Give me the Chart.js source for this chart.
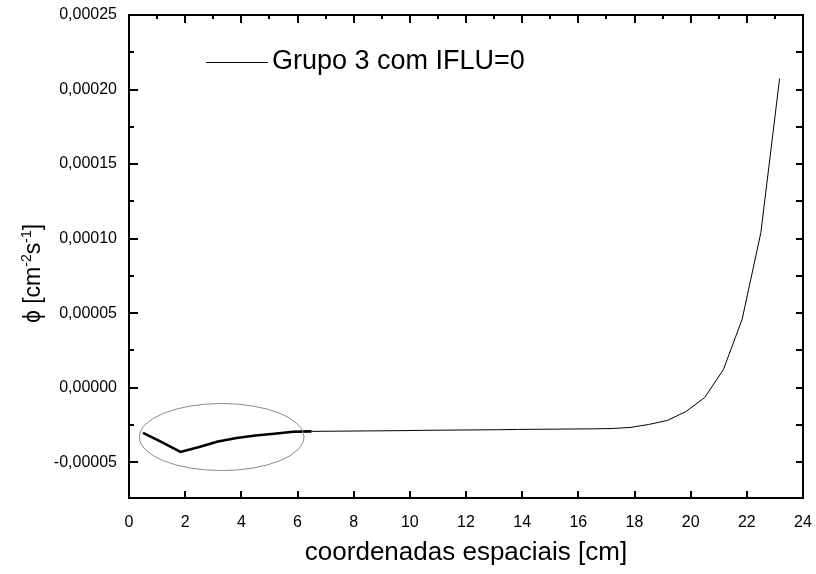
<!DOCTYPE html>
<html>
<head>
<meta charset="utf-8">
<script src="https://cdn.jsdelivr.net/npm/chart.js@4/dist/chart.umd.min.js"></script>
<style>
  body { margin: 0; background: #fff; }
  #box { width: 816px; height: 574px; }
</style>
</head>
<body>
<div id="box"><canvas id="fluxChart"></canvas></div>
<script>
// spatial mesh points (cm) and flux values
const xCoords = [0.5, 1.167, 1.833, 2.5, 3.167, 3.833, 4.5, 5.167, 5.833, 6.5,
  7.167, 7.833, 8.5, 9.167, 9.833, 10.5, 11.167, 11.833, 12.5, 13.167,
  13.833, 14.5, 15.167, 15.833, 16.5, 17.167, 17.833, 18.5, 19.167, 19.833,
  20.5, 21.167, 21.833, 22.5, 23.167]
const phiValues = [-3.03e-5, -3.65e-5, -4.31e-5, -3.98e-5, -3.61e-5, -3.37e-5, -3.21e-5, -3.09e-5, -2.96e-5, -2.93e-5,
  -2.92e-5, -2.91e-5, -2.90e-5, -2.89e-5, -2.88e-5, -2.86e-5, -2.85e-5, -2.84e-5, -2.83e-5, -2.82e-5,
  -2.80e-5, -2.79e-5, -2.78e-5, -2.77e-5, -2.76e-5, -2.74e-5, -2.67e-5, -2.47e-5, -2.20e-5, -1.60e-5,
  -6.6e-6, 1.22e-5, 4.59e-5, 1.041e-4, 2.074e-4]
const seriesLabel = "Grupo 3 com IFLU=0"

// highlighted region (ellipse), in data units
const ellipseCenter = [3.30, -3.31e-5]
const ellipseRadius = [2.93, 2.25e-5]

const xTicks = [0, 2, 4, 6, 8, 10, 12, 14, 16, 18, 20, 22, 24]
const yTicks = [-0.00005, 0, 0.00005, 0.0001, 0.00015, 0.0002, 0.00025]

const FONT = '"Liberation Sans", Arial, sans-serif'

function fmtComma(v) {
  if (Math.abs(v) < 1e-12) v = 0
  return v.toFixed(5).replace(".", ",")
}

const framePlugin = {
  id: "frame",
  afterDatasetsDraw(chart) {
    const ctx = chart.ctx
    const a = chart.chartArea
    const x = chart.scales.x
    const y = chart.scales.y
    ctx.save()

    // gray ellipse round the left part
    const cx = x.getPixelForValue(ellipseCenter[0])
    const cy = y.getPixelForValue(ellipseCenter[1])
    const rx = x.getPixelForValue(ellipseCenter[0] + ellipseRadius[0]) - cx
    const ry = cy - y.getPixelForValue(ellipseCenter[1] + ellipseRadius[1])
    ctx.strokeStyle = "#8a8a8a"
    ctx.lineWidth = 1
    ctx.beginPath()
    ctx.ellipse(cx, cy, rx, ry, 0, 0, Math.PI * 2)
    ctx.stroke()

    // box
    ctx.strokeStyle = "#000"
    ctx.lineWidth = 2
    ctx.strokeRect(a.left, a.top, a.right - a.left, a.bottom - a.top)

    // ticks, all pointing inward
    ctx.beginPath()
    for (let i = 0; i <= 24; i++) {
      const px = Math.round(x.getPixelForValue(i))
      const major = i % 2 === 0
      if (major) {
        ctx.moveTo(px, a.bottom); ctx.lineTo(px, a.bottom - 7)
      }
      ctx.moveTo(px, a.top); ctx.lineTo(px, a.top + (major ? 8 : 4))
    }
    for (let i = -2; i <= 10; i++) {
      const py = Math.round(y.getPixelForValue(i * 0.000025))
      const major = i % 2 === 0
      ctx.moveTo(a.left, py); ctx.lineTo(a.left + (major ? 9 : 5), py)
      ctx.moveTo(a.right, py); ctx.lineTo(a.right - 7, py)
    }
    ctx.stroke()

    // legend inside the plot
    const ly = a.top + 47
    ctx.lineWidth = 1
    ctx.beginPath()
    ctx.moveTo(a.left + 77, ly + 0.5)
    ctx.lineTo(a.left + 139, ly + 0.5)
    ctx.stroke()
    ctx.fillStyle = "#000"
    ctx.font = "27px " + FONT
    ctx.textBaseline = "middle"
    ctx.textAlign = "left"
    ctx.fillText(chart.data.datasets[0].label, a.left + 143, ly)

    // y axis title with superscripts
    const parts = [["ϕ [cm", false], ["-2", true], ["s", false], ["-1", true], ["]", false]]
    const big = "23px " + FONT
    const small = "14px " + FONT
    let total = 0
    parts.forEach(p => { ctx.font = p[1] ? small : big; total += ctx.measureText(p[0]).width })
    ctx.translate(32, (a.top + a.bottom) / 2 + 17)
    ctx.rotate(-Math.PI / 2)
    ctx.textBaseline = "alphabetic"
    let pos = -total / 2
    parts.forEach(p => {
      ctx.font = p[1] ? small : big
      ctx.fillText(p[0], pos, p[1] ? -1 : 8)
      pos += ctx.measureText(p[0]).width
    })
    ctx.restore()
  }
}

const points = xCoords.map((v, i) => ({ x: v, y: phiValues[i] }))

new Chart(document.getElementById("fluxChart"), {
  type: "line",
  data: {
    datasets: [{
      label: seriesLabel,
      data: points,
      borderColor: "#000",
      borderWidth: 1,
      pointRadius: 0,
      tension: 0,
      segment: {
        borderWidth: c => c.p0.parsed.x < 5.9 ? 2.6 : 1
      }
    }]
  },
  options: {
    responsive: true,
    maintainAspectRatio: false,
    animation: false,
    layout: { padding: { top: 15, right: 13, left: 0, bottom: 0 } },
    plugins: { legend: { display: false }, tooltip: { enabled: false } },
    scales: {
      x: {
        type: "linear",
        min: 0,
        max: 24,
        afterFit: s => { s.height = 76; s.paddingLeft = 0; s.paddingRight = 0 },
        afterBuildTicks: s => { s.ticks = xTicks.map(v => ({ value: v })) },
        grid: { display: false, drawTicks: false },
        border: { display: false },
        ticks: { color: "#000", font: { family: FONT, size: 16 }, padding: 15, maxRotation: 0 },
        title: {
          display: true,
          text: "coordenadas espaciais [cm]",
          color: "#000",
          font: { family: FONT, size: 26 },
          padding: { top: 0, bottom: 6 }
        }
      },
      y: {
        min: -0.000074,
        max: 0.00025,
        afterFit: s => { s.width = 129; s.paddingTop = 0; s.paddingBottom = 0 },
        afterBuildTicks: s => { s.ticks = yTicks.map(v => ({ value: v })) },
        grid: { display: false, drawTicks: false },
        border: { display: false },
        ticks: { color: "#000", font: { family: FONT, size: 16 }, padding: 12, callback: v => fmtComma(v) }
      }
    }
  },
  plugins: [framePlugin]
})
</script>
</body>
</html>
